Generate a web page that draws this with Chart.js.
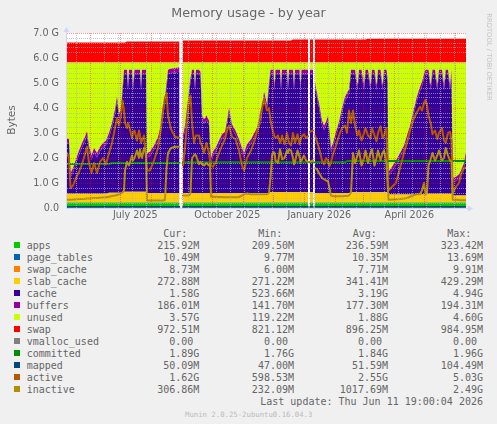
<!DOCTYPE html>
<html>
<head>
<meta charset="utf-8">
<script src="https://cdn.jsdelivr.net/npm/chart.js"></script>
<style>
  html, body { margin: 0; padding: 0; background: #F0F0F0; }
  #wrap { position: relative; width: 497px; height: 424px; overflow: hidden; font-family: 'DejaVu Sans', sans-serif; color: #666; }
  #wrap div { position: absolute; white-space: pre; }
  canvas { position: absolute; left: 0; top: 0; }
  .mono { font-family: 'DejaVu Sans Mono', monospace; font-size: 10px; line-height: 12px; }
</style>
</head>
<body>
<div id="wrap">
  <canvas id="memChart" width="497" height="224"></canvas>
  <div style="left:0;width:497px;top:6.5px;text-align:center;font-size:12.7px;line-height:1;">Memory usage - by year</div>
  <div style="left:-19.5px;top:113px;width:60px;height:14px;line-height:14px;text-align:center;font-size:10.5px;transform:rotate(-90deg);">Bytes</div>
  <div style="left:433.5px;top:52.5px;width:110px;height:8px;line-height:8px;text-align:center;font-size:6.8px;color:#c4c4c4;transform:rotate(90deg);">RRDTOOL / TOBI OETIKER</div>
  <div id="legend"></div>
</div>
<script>
// x positions: days since the left edge of the graph (one pixel per day)
const days = [0,2,3.5,6,9,12,15,18,20,22,
  24.5,27,30,33,36,39,42,45,48,50,
  52,54,55.5,57,58,60,61,62,65,66,
  67.5,70,72,73,74,75,77,79,80,83,
  87,91,94,96,98,99.5,101,104,108,112.5,
  114,116,118,120,122,123.5,125,127,128,129,
  132,133.5,135,137,139.5,142,143,144,146,149,
  152,155,158,160,162,165,168.5,172,175,177,
  180,184,188,191,194,197,200,202,203.5,205,
  206.5,207.5,208.5,211,213,214,215,217.5,220,221,
  222,224,226,227,228,230.5,232.5,233.5,234.5,237,
  239,241,242,243,246,247,248,250,252,255,
  257,259,261,262.5,264,266,269,272,275,278,
  280,282,284,286,288,290.5,292,294.5,297,298.5,
  301,303.5,305,307.5,309.5,311,313.5,315.5,317,319.5,
  320.5,321.5,325,329,333,337,340,343,346,349.5,
  353,355,357,358.5,360,361.5,363.7,365.5,368,370.3,
  372,375,377,378.7,381,383,384.5,385.7,389,392,
  394,397,399];

// values in GiB
const apps = [0.21,0.21,0.21,0.21,0.21,0.21,0.21,0.21,0.21,0.21,
  0.21,0.21,0.21,0.21,0.21,0.21,0.21,0.21,0.21,0.21,
  0.21,0.21,0.21,0.21,0.21,0.21,0.21,0.21,0.21,0.21,
  0.21,0.21,0.21,0.21,0.21,0.21,0.21,0.21,0.21,0.21,
  0.21,0.21,0.21,0.21,0.21,0.21,0.21,0.21,0.21,0.21,
  null,0.21,0.21,0.21,0.21,0.21,0.21,0.21,0.21,0.21,
  0.21,0.21,0.21,0.21,0.21,0.21,0.21,0.21,0.21,0.21,
  0.21,0.21,0.21,0.21,0.21,0.21,0.21,0.21,0.21,0.21,
  0.21,0.21,0.21,0.21,0.21,0.21,0.21,0.21,0.21,0.21,
  0.21,0.21,0.21,0.21,0.21,0.21,0.21,0.21,0.21,0.21,
  0.21,0.21,0.21,0.21,0.21,0.21,0.21,0.21,0.21,0.21,
  0.21,0.21,null,0.21,0.21,null,0.21,0.21,0.21,0.21,
  0.21,0.21,0.21,0.21,0.21,0.21,0.21,0.21,0.21,0.21,
  0.21,0.21,0.21,0.21,0.21,0.21,0.21,0.21,0.21,0.21,
  0.21,0.21,0.21,0.21,0.21,0.21,0.21,0.21,0.21,0.21,
  0.21,0.21,0.21,0.21,0.21,0.21,0.21,0.21,0.21,0.21,
  0.21,0.21,0.21,0.21,0.21,0.21,0.21,0.21,0.21,0.21,
  0.21,0.21,0.21,0.21,0.21,0.21,0.21,0.21,0.21,0.21,
  0.21,0.21,0.21];
const pageTables = [0.01,0.01,0.01,0.01,0.01,0.01,0.01,0.01,0.01,0.01,
  0.01,0.01,0.01,0.01,0.01,0.01,0.01,0.01,0.01,0.01,
  0.01,0.01,0.01,0.01,0.01,0.01,0.01,0.01,0.01,0.01,
  0.01,0.01,0.01,0.01,0.01,0.01,0.01,0.01,0.01,0.01,
  0.01,0.01,0.01,0.01,0.01,0.01,0.01,0.01,0.01,0.01,
  null,0.01,0.01,0.01,0.01,0.01,0.01,0.01,0.01,0.01,
  0.01,0.01,0.01,0.01,0.01,0.01,0.01,0.01,0.01,0.01,
  0.01,0.01,0.01,0.01,0.01,0.01,0.01,0.01,0.01,0.01,
  0.01,0.01,0.01,0.01,0.01,0.01,0.01,0.01,0.01,0.01,
  0.01,0.01,0.01,0.01,0.01,0.01,0.01,0.01,0.01,0.01,
  0.01,0.01,0.01,0.01,0.01,0.01,0.01,0.01,0.01,0.01,
  0.01,0.01,null,0.01,0.01,null,0.01,0.01,0.01,0.01,
  0.01,0.01,0.01,0.01,0.01,0.01,0.01,0.01,0.01,0.01,
  0.01,0.01,0.01,0.01,0.01,0.01,0.01,0.01,0.01,0.01,
  0.01,0.01,0.01,0.01,0.01,0.01,0.01,0.01,0.01,0.01,
  0.01,0.01,0.01,0.01,0.01,0.01,0.01,0.01,0.01,0.01,
  0.01,0.01,0.01,0.01,0.01,0.01,0.01,0.01,0.01,0.01,
  0.01,0.01,0.01,0.01,0.01,0.01,0.01,0.01,0.01,0.01,
  0.01,0.01,0.01];
const swapCache = pageTables.slice();
const slabCache = [0.34,0.34,0.34,0.34,0.34,0.34,0.34,0.34,0.34,0.34,
  0.34,0.34,0.34,0.34,0.34,0.34,0.38,0.38,0.38,0.38,
  0.38,0.38,0.38,0.42,0.42,0.42,0.42,0.42,0.42,0.42,
  0.42,0.42,0.42,0.42,0.42,0.42,0.42,0.42,0.37,0.37,
  0.37,0.37,0.37,0.37,0.37,0.37,0.37,0.37,0.37,0.37,
  null,0.37,0.37,0.37,0.37,0.37,0.37,0.37,0.37,0.37,
  0.37,0.37,0.37,0.37,0.37,0.37,0.37,0.37,0.37,0.37,
  0.37,0.37,0.37,0.37,0.37,0.37,0.37,0.37,0.37,0.37,
  0.37,0.37,0.37,0.37,0.37,0.37,0.37,0.37,0.41,0.41,
  0.41,0.41,0.41,0.41,0.41,0.41,0.41,0.41,0.41,0.41,
  0.41,0.41,0.41,0.41,0.41,0.41,0.41,0.41,0.41,0.41,
  0.41,0.41,null,0.41,0.41,null,0.37,0.37,0.37,0.37,
  0.37,0.37,0.37,0.37,0.37,0.37,0.37,0.37,0.37,0.37,
  0.37,0.37,0.40,0.40,0.40,0.40,0.40,0.40,0.40,0.40,
  0.40,0.40,0.40,0.40,0.40,0.40,0.40,0.40,0.40,0.40,
  0.40,0.31,0.31,0.31,0.31,0.31,0.31,0.31,0.31,0.31,
  0.31,0.31,0.31,0.34,0.34,0.34,0.34,0.34,0.34,0.34,
  0.34,0.34,0.34,0.34,0.34,0.34,0.34,0.27,0.27,0.27,
  0.27,0.27,0.27];
const cache = [2.05,2.00,0.65,0.85,1.20,1.55,1.85,2.10,2.32,1.75,
  1.35,1.65,1.45,1.70,1.85,1.95,2.21,2.61,3.16,3.68,
  3.01,3.11,4.01,4.70,4.70,4.70,4.07,4.70,4.70,4.07,
  4.70,4.70,4.70,4.70,4.07,4.70,4.70,4.70,1.42,1.47,
  1.72,2.07,2.52,3.02,3.62,4.22,4.75,4.80,4.82,4.85,
  null,2.12,2.52,3.22,3.92,4.42,4.75,4.75,4.12,4.75,
  4.75,4.67,2.92,2.77,2.92,2.72,1.82,1.22,1.47,1.67,
  1.92,2.17,2.27,2.72,3.22,2.57,2.32,1.97,1.62,1.42,
  1.77,1.97,2.27,2.52,2.82,3.89,3.37,4.22,4.71,4.71,
  4.71,4.08,4.71,4.71,4.71,4.08,4.71,4.71,4.71,4.08,
  4.71,4.71,4.71,4.08,4.71,4.71,4.71,4.08,4.71,4.71,
  4.71,4.71,null,4.71,4.71,null,4.22,3.82,3.42,2.72,
  2.52,2.67,2.92,2.32,1.62,1.82,2.27,2.67,3.22,3.67,
  3.82,3.97,4.72,4.72,4.72,4.09,4.72,4.72,4.09,4.72,
  4.72,4.09,4.72,4.72,4.09,4.72,4.72,4.09,4.72,4.72,
  4.39,0.73,0.93,1.18,1.48,1.78,2.18,2.58,3.08,3.68,
  4.13,4.33,4.63,4.78,4.78,4.78,4.15,4.78,4.78,4.15,
  4.78,4.78,4.15,4.78,4.78,4.15,4.78,0.54,0.57,0.67,
  0.82,1.12,1.57];
const buffers = [0.18,0.18,0.18,0.18,0.18,0.18,0.18,0.18,0.18,0.18,
  0.18,0.18,0.18,0.18,0.18,0.18,0.18,0.18,0.18,0.18,
  0.18,0.18,0.18,0.18,0.18,0.18,0.18,0.18,0.18,0.18,
  0.18,0.18,0.18,0.18,0.18,0.18,0.18,0.18,0.18,0.18,
  0.18,0.18,0.18,0.18,0.18,0.18,0.18,0.18,0.18,0.18,
  null,0.18,0.18,0.18,0.18,0.18,0.18,0.18,0.18,0.18,
  0.18,0.18,0.18,0.18,0.18,0.18,0.18,0.18,0.18,0.18,
  0.18,0.18,0.18,0.18,0.18,0.18,0.18,0.18,0.18,0.18,
  0.18,0.18,0.18,0.18,0.18,0.18,0.18,0.18,0.18,0.18,
  0.18,0.18,0.18,0.18,0.18,0.18,0.18,0.18,0.18,0.18,
  0.18,0.18,0.18,0.18,0.18,0.18,0.18,0.18,0.18,0.18,
  0.18,0.18,null,0.18,0.18,null,0.18,0.18,0.18,0.18,
  0.18,0.18,0.18,0.18,0.18,0.18,0.18,0.18,0.18,0.18,
  0.18,0.18,0.18,0.18,0.18,0.18,0.18,0.18,0.18,0.18,
  0.18,0.18,0.18,0.18,0.18,0.18,0.18,0.18,0.18,0.18,
  0.18,0.18,0.18,0.18,0.18,0.18,0.18,0.18,0.18,0.18,
  0.18,0.18,0.18,0.18,0.18,0.18,0.18,0.18,0.18,0.18,
  0.18,0.18,0.18,0.18,0.18,0.18,0.18,0.18,0.18,0.18,
  0.18,0.18,0.18];
const unused = [3.02,3.07,4.42,4.22,3.87,3.52,3.22,2.97,2.75,3.32,
  3.72,3.42,3.62,3.37,3.22,3.12,2.82,2.42,1.87,1.35,
  2.02,1.92,1.02,0.29,0.29,0.29,0.92,0.29,0.29,0.92,
  0.29,0.29,0.29,0.29,0.92,0.29,0.29,0.29,3.62,3.57,
  3.32,2.97,2.52,2.02,1.42,0.82,0.29,0.24,0.22,0.19,
  null,2.92,2.52,1.82,1.12,0.62,0.29,0.29,0.92,0.29,
  0.29,0.37,2.12,2.27,2.12,2.32,3.22,3.82,3.57,3.37,
  3.12,2.87,2.77,2.32,1.82,2.47,2.72,3.07,3.42,3.62,
  3.27,3.07,2.77,2.52,2.22,1.15,1.67,0.82,0.29,0.29,
  0.29,0.92,0.29,0.29,0.29,0.92,0.29,0.29,0.29,0.92,
  0.29,0.29,0.29,0.92,0.29,0.29,0.29,0.92,0.29,0.29,
  0.29,0.29,null,0.29,0.29,null,0.82,1.22,1.62,2.32,
  2.52,2.37,2.12,2.72,3.42,3.22,2.77,2.37,1.82,1.37,
  1.22,1.07,0.29,0.29,0.29,0.92,0.29,0.29,0.92,0.29,
  0.29,0.92,0.29,0.29,0.92,0.29,0.29,0.92,0.29,0.29,
  0.62,4.37,4.17,3.92,3.62,3.32,2.92,2.52,2.02,1.42,
  0.97,0.77,0.47,0.29,0.29,0.29,0.92,0.29,0.29,0.92,
  0.29,0.29,0.92,0.29,0.29,0.92,0.29,4.60,4.57,4.47,
  4.32,4.02,3.57];
const swap = [0.80,0.80,0.80,0.80,0.80,0.80,0.80,0.80,0.80,0.80,
  0.80,0.80,0.80,0.80,0.80,0.80,0.80,0.80,0.80,0.80,
  0.80,0.80,0.80,0.80,0.80,0.84,0.84,0.84,0.84,0.84,
  0.84,0.84,0.84,0.84,0.84,0.84,0.84,0.84,0.84,0.84,
  0.84,0.84,0.84,0.84,0.84,0.84,0.84,0.84,0.84,0.84,
  null,0.88,0.88,0.88,0.88,0.88,0.88,0.88,0.88,0.88,
  0.88,0.88,0.88,0.88,0.88,0.88,0.88,0.88,0.88,0.88,
  0.88,0.88,0.88,0.88,0.88,0.88,0.88,0.88,0.88,0.88,
  0.88,0.88,0.88,0.88,0.88,0.88,0.88,0.88,0.88,0.88,
  0.88,0.88,0.88,0.88,0.88,0.88,0.88,0.88,0.88,0.88,
  0.88,0.88,0.92,0.92,0.92,0.92,0.92,0.92,0.92,0.92,
  0.92,0.92,null,0.92,0.92,null,0.92,0.92,0.92,0.92,
  0.92,0.92,0.92,0.92,0.92,0.92,0.92,0.92,0.92,0.92,
  0.92,0.92,0.92,0.92,0.92,0.92,0.92,0.92,0.92,0.92,
  0.95,0.95,0.95,0.95,0.95,0.95,0.95,0.95,0.95,0.95,
  0.95,0.95,0.95,0.95,0.95,0.95,0.95,0.95,0.95,0.95,
  0.95,0.95,0.95,0.95,0.95,0.95,0.95,0.95,0.95,0.95,
  0.95,0.95,0.95,0.95,0.95,0.95,0.95,0.95,0.95,0.95,
  0.95,0.95,0.95];
const vmallocUsed = [0,0,0,0,0,0,0,0,0,0, 0,0,0,0,0,0,0,0,0,0,
  0,0,0,0,0,0,0,0,0,0, 0,0,0,0,0,0,0,0,0,0, 0,0,0,0,0,0,0,0,0,0,
  null,0,0,0,0,0,0,0,0,0, 0,0,0,0,0,0,0,0,0,0, 0,0,0,0,0,0,0,0,0,0,
  0,0,0,0,0,0,0,0,0,0, 0,0,0,0,0,0,0,0,0,0, 0,0,0,0,0,0,0,0,0,0,
  0,0,null,0,0,null,0,0,0,0, 0,0,0,0,0,0,0,0,0,0, 0,0,0,0,0,0,0,0,0,0,
  0,0,0,0,0,0,0,0,0,0, 0,0,0,0,0,0,0,0,0,0, 0,0,0,0,0,0,0,0,0,0,
  0,0,0,0,0,0,0,0,0,0, 0,0,0];
const committed = [1.76,1.76,1.76,1.76,1.76,1.76,1.76,1.76,1.76,1.76,
  1.76,1.76,1.76,1.76,1.76,1.76,1.76,1.80,1.80,1.80,
  1.80,1.80,1.80,1.80,1.80,1.80,1.80,1.80,1.80,1.80,
  1.80,1.80,1.80,1.80,1.80,1.80,1.80,1.80,1.80,1.80,
  1.80,1.80,1.80,1.80,1.80,1.80,1.80,1.80,1.80,1.80,
  null,1.83,1.83,1.83,1.83,1.83,1.83,1.83,1.83,1.83,
  1.83,1.83,1.83,1.83,1.83,1.83,1.83,1.83,1.83,1.83,
  1.83,1.83,1.83,1.83,1.83,1.83,1.83,1.83,1.83,1.83,
  1.83,1.83,1.83,1.83,1.83,1.83,1.83,1.83,1.83,1.83,
  1.83,1.83,1.83,1.83,1.83,1.83,1.83,1.83,1.83,1.83,
  1.83,1.83,1.83,1.83,1.83,1.83,1.83,1.83,1.83,1.83,
  1.83,1.83,null,1.83,1.83,null,1.83,1.83,1.83,1.83,
  1.83,1.83,1.83,1.83,1.83,1.83,1.83,1.83,1.83,1.83,
  1.88,1.88,1.88,1.88,1.88,1.88,1.88,1.88,1.88,1.88,
  1.88,1.88,1.88,1.88,1.88,1.88,1.88,1.88,1.88,1.88,
  1.88,1.88,1.88,1.88,1.88,1.88,1.88,1.88,1.88,1.88,
  1.88,1.88,1.88,1.88,1.88,1.88,1.88,1.88,1.88,1.88,
  1.88,1.88,1.88,1.88,1.88,1.88,1.88,1.88,1.88,1.88,
  1.88,1.88,1.88];
const mapped = [0.05,0.05,0.05,0.05,0.05,0.05,0.05,0.05,0.05,0.05,
  0.05,0.05,0.05,0.05,0.05,0.05,0.05,0.05,0.05,0.05,
  0.05,0.05,0.05,0.05,0.05,0.05,0.05,0.05,0.05,0.05,
  0.05,0.05,0.05,0.05,0.05,0.05,0.05,0.05,0.05,0.05,
  0.05,0.05,0.05,0.05,0.05,0.05,0.05,0.05,0.05,0.05,
  null,0.05,0.05,0.05,0.05,0.05,0.05,0.05,0.05,0.05,
  0.05,0.05,0.05,0.05,0.05,0.05,0.05,0.05,0.05,0.05,
  0.05,0.05,0.05,0.05,0.05,0.05,0.05,0.05,0.05,0.05,
  0.05,0.05,0.05,0.05,0.05,0.05,0.05,0.05,0.05,0.05,
  0.05,0.05,0.05,0.05,0.05,0.05,0.05,0.05,0.05,0.05,
  0.05,0.05,0.05,0.05,0.05,0.05,0.05,0.05,0.05,0.05,
  0.05,0.05,null,0.05,0.05,null,0.05,0.05,0.05,0.05,
  0.05,0.05,0.05,0.05,0.05,0.05,0.05,0.05,0.05,0.05,
  0.05,0.05,0.05,0.05,0.05,0.05,0.05,0.05,0.05,0.05,
  0.05,0.05,0.05,0.05,0.05,0.05,0.05,0.05,0.05,0.05,
  0.05,0.05,0.05,0.05,0.05,0.05,0.05,0.05,0.05,0.05,
  0.05,0.05,0.05,0.05,0.05,0.05,0.05,0.05,0.05,0.05,
  0.05,0.05,0.05,0.05,0.05,0.05,0.05,0.05,0.05,0.05,
  0.05,0.05,0.05];
const active = [2.2,2.0,0.8,0.9,1.2,1.45,1.75,2.15,2.45,1.8,
  1.4,1.8,1.4,1.85,2.0,1.75,2.2,2.6,3.2,3.6,
  3.3,3.7,4.3,3.9,3.4,3.2,3.4,3.3,2.8,3.0,
  3.1,2.7,3.1,2.9,2.6,2.7,2.9,2.0,1.5,1.5,
  1.9,2.4,3.2,3.9,4.4,4.6,3.7,3.15,2.85,2.8,
  null,1.7,2.4,3.4,4.3,4.5,3.4,2.6,2.8,2.9,
  2.9,2.6,2.5,2.2,2.6,2.2,1.9,1.7,1.65,1.85,
  2.2,2.5,2.75,3.1,3.3,2.85,2.75,2.3,1.7,1.5,
  2.0,2.3,2.75,3.2,3.8,4.35,3.9,4.0,3.5,3.2,
  3.0,2.85,2.8,2.9,2.6,2.7,2.9,2.55,3.0,2.8,
  2.6,2.5,3.0,2.8,2.6,2.95,2.55,2.7,2.85,2.95,
  2.8,2.87,null,3.05,3.1,null,2.9,2.65,2.4,1.9,
  1.75,2.0,1.9,1.67,1.85,2.15,2.5,2.9,3.2,3.3,
  3.0,3.9,3.4,3.9,3.3,2.9,3.1,2.7,3.0,3.2,
  2.9,2.8,3.2,2.9,2.67,3.0,3.27,2.8,2.9,3.2,
  1.6,0.7,0.85,1.0,1.6,2.2,2.6,3.1,3.5,3.8,
  4.05,3.9,4.2,4.33,4.1,3.7,3.4,2.95,3.1,2.75,
  3.0,3.2,2.7,2.6,3.0,3.05,2.7,0.6,0.85,1.0,
  1.35,1.6,1.62];
const inactive = [0.33,0.33,0.33,0.34,0.35,0.36,0.36,0.37,0.38,0.38,
  0.39,0.40,0.40,0.41,0.42,0.43,0.45,0.48,0.50,0.52,
  0.55,0.58,0.62,0.70,1.5,1.85,1.75,1.7,2.1,1.9,
  2.0,2.3,2.0,2.35,2.1,2.0,2.4,2.2,0.30,0.30,
  0.30,0.30,0.30,0.30,0.32,1.6,2.2,2.4,2.45,2.45,
  null,0.5,0.5,0.5,0.5,0.6,2.0,2.1,2.15,2.1,
  1.75,1.85,1.75,1.7,1.8,1.7,1.75,0.45,0.45,0.44,
  0.44,0.44,0.43,0.43,0.43,0.43,0.43,0.44,0.5,0.55,
  0.58,0.55,0.55,0.55,0.55,0.55,0.55,0.6,1.2,2.1,
  2.25,2.2,1.9,1.8,2.35,2.2,1.95,2.0,2.3,2.2,
  2.35,2.3,2.0,1.75,1.85,2.3,2.05,1.85,1.9,2.1,
  1.9,1.85,null,1.85,1.9,null,1.6,1.55,1.4,1.2,
  1.15,1.1,1.07,0.8,0.5,0.47,0.47,0.47,0.47,0.48,
  0.48,0.5,0.6,2.2,1.8,2.1,2.3,1.7,2.0,2.3,
  1.8,2.2,2.35,1.7,2.0,2.3,1.9,2.2,2.3,1.8,
  1.0,0.33,0.34,0.35,0.36,0.38,0.4,0.45,0.5,0.55,
  0.55,0.7,1.0,0.55,0.6,1.7,1.95,2.2,1.9,2.1,
  2.3,1.9,2.0,2.4,2.1,1.9,1.85,0.33,0.33,0.32,
  0.31,0.31,0.31];

// axis ticks (in days from the left edge)
const monthStartDays = [23.3, 53.3, 84.3, 115.3, 145.3, 176.3, 206.3, 237.3, 268.3, 296.3, 327.3, 357.3, 388.3];
const weekGridDays = [9.3, 23.3, 37.3, 51.3, 65.3, 79.3, 93.3, 107.3, 121.3, 135.3, 149.3, 163.3, 177.3, 191.3,
  205.3, 219.3, 233.3, 247.3, 261.3, 275.3, 289.3, 303.3, 317.3, 331.3, 345.3, 359.3, 373.3, 387.3];
const xLabelDays = [68.3, 160.3, 252.3, 342.3];
const xLabels = ['July 2025', 'October 2025', 'January 2026', 'April 2026'];

// legend table
const seriesNames = ['apps', 'page_tables', 'swap_cache', 'slab_cache', 'cache', 'buffers', 'unused', 'swap',
  'vmalloc_used', 'committed', 'mapped', 'active', 'inactive'];
const curVals = ['215.92M', '10.49M', '8.73M', '272.88M', '1.58G', '186.01M', '3.57G', '972.51M', '0.00 ', '1.89G', '50.09M', '1.62G', '306.86M'];
const minVals = ['209.50M', '9.77M', '6.00M', '271.22M', '523.66M', '141.70M', '119.22M', '821.12M', '0.00 ', '1.76G', '47.00M', '598.53M', '232.09M'];
const avgVals = ['236.59M', '10.35M', '7.71M', '341.41M', '3.19G', '177.30M', '1.88G', '896.25M', '0.00 ', '1.84G', '51.59M', '2.55G', '1017.69M'];
const maxVals = ['323.42M', '13.69M', '9.91M', '429.29M', '4.94G', '194.31M', '4.60G', '984.95M', '0.00 ', '1.96G', '104.49M', '5.03G', '2.49G'];

const colors = {
  apps: '#00CC00', page_tables: '#0066B3', swap_cache: '#FF8000', slab_cache: '#FFCC00',
  cache: '#330099', buffers: '#990099', unused: '#CCFF00', swap: '#FF0000',
  vmalloc_used: '#808080', committed: '#008F00', mapped: '#00487D', active: '#B35A00', inactive: '#B38F00'
};

const pts = arr => arr.map((v, i) => ({ x: days[i], y: v }));

function areaSet(name, arr, first) {
  return {
    label: name, data: pts(arr), stack: 'mem', order: 10,
    backgroundColor: colors[name], borderColor: 'rgba(0,0,0,0)', borderWidth: 0,
    fill: first ? 'origin' : '-1', pointRadius: 0, spanGaps: false
  };
}
function lineSet(name, arr, width, order) {
  return {
    label: name, data: pts(arr), stack: name, order: order,
    borderColor: colors[name], borderWidth: width, fill: false, pointRadius: 0, spanGaps: false,
    borderJoinStyle: 'round', borderCapStyle: 'round'
  };
}

const canvasBg = {
  id: 'canvasBg',
  beforeDraw(chart) {
    const { ctx, chartArea: a } = chart;
    ctx.save();
    ctx.fillStyle = '#FFFFFF';
    ctx.fillRect(a.left, a.top, a.right - a.left, a.bottom - a.top);
    ctx.restore();
  }
};

// rrdtool style axis lines with arrows
const axisArrows = {
  id: 'axisArrows',
  afterDraw(chart) {
    const { ctx, chartArea: a } = chart;
    const x0 = a.left - 0.5, y0 = a.bottom + 0.5;
    ctx.save();
    ctx.strokeStyle = '#CFD6F8';
    ctx.fillStyle = '#CFD6F8';
    ctx.lineWidth = 1;
    ctx.beginPath();
    ctx.moveTo(x0, y0); ctx.lineTo(x0, a.top - 1);
    ctx.moveTo(x0, y0); ctx.lineTo(a.right + 3, y0);
    ctx.stroke();
    ctx.beginPath();
    ctx.moveTo(x0, a.top - 6); ctx.lineTo(x0 - 3, a.top - 1); ctx.lineTo(x0 + 3, a.top - 1); ctx.closePath();
    ctx.moveTo(a.right + 7, y0); ctx.lineTo(a.right + 2, y0 - 3); ctx.lineTo(a.right + 2, y0 + 3); ctx.closePath();
    ctx.fill();
    ctx.restore();
  }
};

const xTickValues = Array.from(new Set([...weekGridDays, ...monthStartDays, ...xLabelDays])).sort((a, b) => a - b);

new Chart(document.getElementById('memChart'), {
  type: 'line',
  data: {
    datasets: [
      areaSet('apps', apps, true),
      areaSet('page_tables', pageTables),
      areaSet('swap_cache', swapCache),
      areaSet('slab_cache', slabCache),
      areaSet('cache', cache),
      areaSet('buffers', buffers),
      areaSet('unused', unused),
      areaSet('swap', swap),
      lineSet('vmalloc_used', vmallocUsed, 2, 5),
      lineSet('committed', committed, 2, 4),
      lineSet('mapped', mapped, 1.5, 3),
      lineSet('active', active, 2, 2),
      lineSet('inactive', inactive, 2, 1)
    ]
  },
  options: {
    responsive: false,
    animation: false,
    layout: { padding: { left: 0, top: 33, right: 31, bottom: 0 } },
    plugins: { legend: { display: false }, tooltip: { enabled: false }, title: { display: false } },
    elements: { point: { radius: 0 }, line: { tension: 0 } },
    scales: {
      x: {
        type: 'linear', min: 0, max: 399,
        afterBuildTicks: scale => { scale.ticks = xTickValues.map(v => ({ value: v })); },
        afterFit: scale => { scale.height = 16; },
        ticks: {
          autoSkip: false, maxRotation: 0, minRotation: 0, padding: 2, color: '#666',
          font: { family: 'DejaVu Sans', size: 9.6 },
          callback: v => { const i = xLabelDays.indexOf(v); return i >= 0 ? xLabels[i] : ''; }
        },
        grid: {
          z: 1, drawTicks: false, lineWidth: 1,
          color: c => {
            const v = c.tick && c.tick.value;
            if (monthStartDays.includes(v)) return 'rgba(255,0,0,0.4)';
            if (weekGridDays.includes(v)) return 'rgba(180,180,180,0.7)';
            return 'rgba(0,0,0,0)';
          }
        },
        border: { display: false, dash: [1, 1] }
      },
      y: {
        stacked: true, min: 0, max: 7,
        afterFit: scale => { scale.width = 67; },
        ticks: {
          stepSize: 0.2, padding: 8, color: '#666', autoSkip: false,
          font: { family: 'DejaVu Sans', size: 9.6 },
          callback: v => {
            if (Math.abs(v - Math.round(v)) > 1e-6) return '';
            return Math.round(v) === 0 ? '0.0' : Math.round(v).toFixed(1) + ' G';
          }
        },
        grid: {
          z: 1, drawTicks: false, lineWidth: 1,
          color: c => {
            const v = c.tick ? c.tick.value : 0;
            return Math.abs(v - Math.round(v)) < 1e-6 ? 'rgba(255,0,0,0.4)' : 'rgba(180,180,180,0.7)';
          }
        },
        border: { display: false, dash: [1, 1] }
      }
    }
  },
  plugins: [canvasBg, axisArrows]
});

// legend below the graph
const legend = document.getElementById('legend');
function addText(text, left, top, width, align, cls) {
  const d = document.createElement('div');
  d.className = cls || 'mono';
  d.textContent = text;
  d.style.left = left + 'px';
  d.style.top = top + 'px';
  if (width) { d.style.width = width + 'px'; d.style.textAlign = align; }
  legend.appendChild(d);
}
const colRight = [199.3, 294, 388, 483];
const headLeft = [163.3, 258.3, 352.7, 447.3];
['Cur:', 'Min:', 'Avg:', 'Max:'].forEach((h, j) => addText(h, headLeft[j], 227.5));
seriesNames.forEach((name, i) => {
  const top = 227.5 + 12 * (i + 1);
  const box = document.createElement('div');
  box.style.cssText = 'left:14px;top:' + (top + 2.8) + 'px;width:6px;height:6px;background:' + colors[name] + ';';
  legend.appendChild(box);
  addText(name, 26.7, top);
  [curVals, minVals, avgVals, maxVals].forEach((col, j) => addText(col[i], colRight[j] - 90, top, 90, 'right'));
});
addText('Last update: Thu Jun 11 19:00:04 2026', 483 - 240, 227.5 + 12 * 14, 240, 'right');
const ver = document.createElement('div');
ver.textContent = 'Munin 2.0.25-2ubuntu0.16.04.3';
ver.style.cssText = "left:148.7px;width:200px;text-align:center;top:410.5px;font-family:'DejaVu Sans Mono',monospace;font-size:7.3px;line-height:1;color:#bbb;";
legend.appendChild(ver);
</script>
</body>
</html>
